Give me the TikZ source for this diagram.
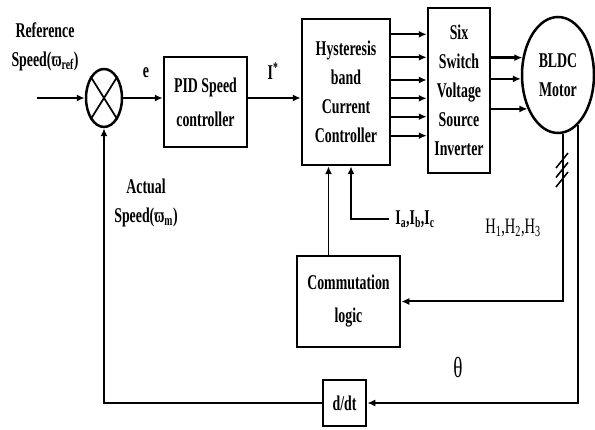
\documentclass[tikz,border=0pt]{standalone}
\usepackage{fontspec}
\setmainfont{Liberation Serif}[FakeStretch=0.66]
\usepackage{tikz}
\usetikzlibrary{arrows.meta,positioning,shapes.geometric,calc}

\begin{document}
\begin{tikzpicture}[x=1pt,y=-1pt,
  >={Latex[length=8pt,width=7pt]},
  blk/.style={draw,line width=2.5pt,align=center,inner sep=0pt,font=\fontsize{21}{29}\selectfont\bfseries},
  lbl/.style={align=center,inner sep=0pt,font=\fontsize{21}{29}\selectfont\bfseries},
  plain/.style={align=center,inner sep=0pt,font=\fontsize{22}{26}\selectfont},
  arr/.style={->,line width=2.3pt},
  wire/.style={line width=1.7pt}
]
  \useasboundingbox (0,0) rectangle (595,430);

  \node[blk,ellipse,minimum width=36pt,minimum height=58pt] (sum) at (104,98) {};
  \node[blk,minimum width=83pt,minimum height=90pt]  (pid)  at (205.5,102) {PID Speed\\[5pt]controller};
  \node[blk,minimum width=88pt,minimum height=146pt] (hyst) at (346,92)    {Hysteresis\\band\\Current\\Controller};
  \node[blk,minimum width=62pt,minimum height=165pt] (inv)  at (459,90.5)  {Six\\Switch\\Voltage\\Source\\Inverter};
  \node[blk,ellipse,minimum width=72pt,minimum height=116pt] (motor) at (558,75) {BLDC\\Motor};
  \node[blk,minimum width=103pt,minimum height=91pt] (comm) at (348.5,301.5) {Commutation\\[4pt]logic};
  \node[blk,minimum width=43pt,minimum height=46pt]  (ddt)  at (344.5,403) {d/dt};

  \node[lbl] (refsp) at (45,47)   {Reference\\Speed(ϖ\textsubscript{ref})};
  \node[lbl] (err)   at (146,73)  {e};
  \node[lbl] (iref)  at (273,71)  {I\textsuperscript{*}};
  \node[lbl] (actsp) at (146,203) {Actual\\Speed(ϖ\textsubscript{m})};
  \node[lbl] (iabc)  at (415,219) {I\textsubscript{a},I\textsubscript{b},I\textsubscript{c}};
  \node[plain] (hall)  at (513,228) {H\textsubscript{1},H\textsubscript{2},H\textsubscript{3}};
  \node[plain,font=\fontsize{29}{30}\selectfont] (theta) at (458,368) {θ};

  \draw[wire] (sum.58) -- (sum.238) (sum.122) -- (sum.302);

  \coordinate (in) at (37,98);
  \draw[arr] (in) -- (sum);
  \draw[arr] (sum) -- (sum -| pid.west);
  \draw[arr] (pid.east |- sum) -- (hyst.west |- sum);
  \foreach \y in {34.3,57.3,80,98.3,116.7,135.7}
    \draw[arr] (hyst.east |- 0,\y) -- (inv.west |- 0,\y);
  \foreach \a in {154,186,228}
    \draw[arr] (inv.east |- motor.\a) -- (motor.\a);

  \draw[arr,line width=2pt] (motor.275) |- (comm.east);
  \foreach \y in {160.5,170,179.5}
    \draw[line width=1.5pt] (556,\y+7.5) -- (568,\y-7.5);
  \draw[arr,line width=2pt] (motor.292) |- (ddt.east);
  \draw[arr] (ddt.west) -| (sum.south);
  \draw[arr,wire] ([xshift=-20pt]comm.north) -- ([xshift=-20pt]comm.north |- hyst.south);
  \draw[arr] ([xshift=-6pt]iabc.west) -| ([xshift=5pt]hyst.south);
\end{tikzpicture}
\end{document}
